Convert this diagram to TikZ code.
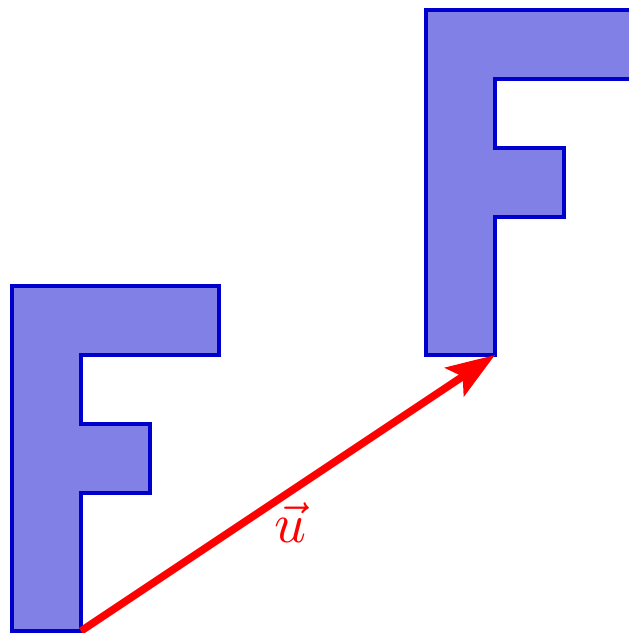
\documentclass[tikz,border=0pt]{standalone}
\usetikzlibrary{arrows.meta}
\definecolor{ffill}{RGB}{128,128,230}
\definecolor{fline}{RGB}{0,0,204}
\begin{document}
\begin{tikzpicture}[
  fshape/.style={draw=fline, fill=ffill, line width=1.3pt, line join=miter},
  vecu/.style={draw=red, line width=3.1pt, -{Stealth[length=20pt,width=14pt,inset=4pt]}}
]
\useasboundingbox (-0.174,-0.029) rectangle (8.928,9.145);
\draw[fshape] (0,0) -- (1,0) -- (1,2) -- (2,2) -- (2,3) -- (1,3) -- (1,4) -- (3,4) -- (3,5) -- (0,5) -- cycle;
\begin{scope}[shift={(6,4)}]
\draw[fshape] (0,0) -- (1,0) -- (1,2) -- (2,2) -- (2,3) -- (1,3) -- (1,4) -- (3,4) -- (3,5) -- (0,5) -- cycle;
\end{scope}
\coordinate (A) at (1,0);
\coordinate (B) at (7,4);
\draw[vecu] (A) -- (B);
\node[red, scale=2.3] (lbl) at (4.04,1.57) {$\vec{u}$};
\end{tikzpicture}
\end{document}
